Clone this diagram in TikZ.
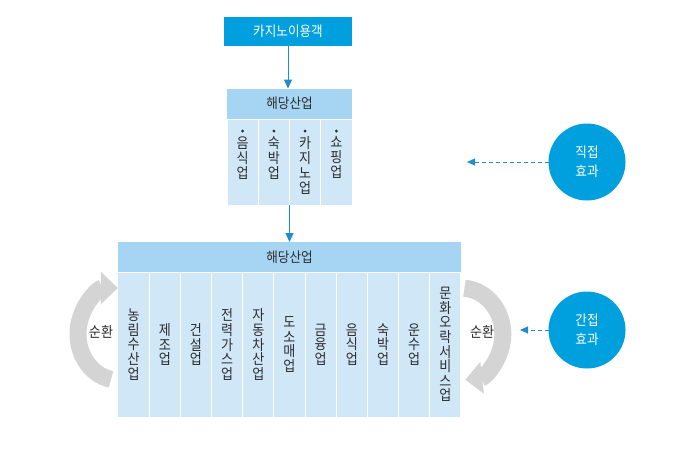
\documentclass[tikz,border=0pt]{standalone}
\usepackage{fontspec}
\setmainfont{Noto Sans CJK KR}[FakeStretch=0.9]
\usetikzlibrary{arrows.meta}
\definecolor{cblue}{RGB}{0,160,223}
\definecolor{hdr}{RGB}{166,213,243}
\definecolor{colc}{RGB}{208,231,248}
\definecolor{txt}{RGB}{45,45,45}
\definecolor{arr}{RGB}{30,140,205}
\definecolor{cyc}{RGB}{212,212,212}
\begin{document}
\begin{tikzpicture}[x=1pt,y=-1pt,
  every node/.style={inner sep=0pt, outer sep=0pt},
  topbox/.style={fill=cblue, text=white, minimum width=128pt, minimum height=29pt, font=\fontsize{14}{15}\selectfont},
  hdrbox/.style={fill=hdr, text=txt, minimum height=30pt, font=\fontsize{14}{15}\selectfont},
  colbox/.style={fill=colc, draw=white, line width=1pt, minimum width=31.2pt},
  vtext/.style={text=txt, align=center, font=\fontsize{14.5}{14.6}\selectfont},
  vtextb/.style={text=txt, align=center, font=\fontsize{14.5}{15}\selectfont},
  bullet/.style={circle, fill=txt, minimum size=3.2pt},
  circ/.style={circle, fill=cblue, text=white, minimum size=77pt, align=center, font=\fontsize{14}{19}\selectfont},
  solidarr/.style={draw=arr, line width=1pt, -{Triangle[length=9pt,width=8pt]}},
  dasharr/.style={draw=arr, line width=1pt, dash pattern=on 4pt off 3pt, -{Triangle[length=8pt,width=7pt]}},
  cycarr/.style={draw=cyc, line width=17pt, -{Triangle[length=17pt,width=31pt]}},
  cyclbl/.style={text=txt, font=\fontsize{14.5}{15}\selectfont}
]
\useasboundingbox (0,0) rectangle (676,451);
\fill[white] (0,0) rectangle (676,451);

% top box
\node[topbox] (user) at (288,31.5) {카지노이용객};

% second box
\node[hdrbox, minimum width=125pt] (h1) at (289.5,103.5) {해당산업};
\node[colbox, minimum height=86pt] (a1) at (242.6,162) {};
\node[colbox, minimum height=86pt] (a2) at (273.9,162) {};
\node[colbox, minimum height=86pt] (a3) at (305.1,162) {};
\node[colbox, minimum height=86pt] (a4) at (336.4,162) {};
\foreach \n/\x in {b1/242.6,b2/273.9,b3/305.1,b4/336.4}{
  \node[bullet] (\n) at (\x,131) {};
}
\node[vtextb, anchor=north] (t1) at (242.6,136.5) {음\\식\\업};
\node[vtextb, anchor=north] (t2) at (273.9,136.5) {숙\\박\\업};
\node[vtextb, anchor=north] (t3) at (305.1,136.5) {카\\지\\노\\업};
\node[vtextb, anchor=north] (t4) at (336.4,136.5) {쇼\\핑\\업};

% third box
\node[hdrbox, minimum width=343pt] (h2) at (289.5,257) {해당산업};
\foreach \i in {1,...,11}{
  \node[colbox, minimum height=145pt] (c\i) at ({118+31.18*(\i-0.5)},344.5) {};
}
\node[vtext] (s1) at (c1) {농\\림\\수\\산\\업};
\node[vtext] (s2) at (c2) {제\\조\\업};
\node[vtext] (s3) at (c3) {건\\설\\업};
\node[vtext] (s4) at (c4) {전\\력\\가\\스\\업};
\node[vtext] (s5) at (c5) {자\\동\\차\\산\\업};
\node[vtext] (s6) at (c6) {도\\소\\매\\업};
\node[vtext] (s7) at (c7) {금\\융\\업};
\node[vtext] (s8) at (c8) {음\\식\\업};
\node[vtext] (s9) at (c9) {숙\\박\\업};
\node[vtext] (s10) at (c10) {운\\수\\업};
\node[vtext] (s11) at (c11) {문\\화\\오\\락\\서\\비\\스\\업};

% arrows between boxes
\draw[solidarr] (user.south) -- (user.south |- h1.north);
\draw[solidarr] (a2.south east) -- (a2.south east |- h2.north);

% circles
\node[circ] (d) at (587,162) {직접\\효과};
\node[circ] (ind) at (587,330) {간접\\효과};
\coordinate (dt) at (467,162);
\coordinate (it) at (520,330);
\draw[dasharr] (d.west) -- (dt);
\draw[dasharr] (ind.west) -- (it);

% cycle arrows
\coordinate (lcs) at (111.05,379.3);
\coordinate (rcs) at (464.5,288.2);
\draw[cycarr] (lcs) arc[start angle=100, end angle=270, x radius=40, y radius=46];
\draw[cycarr] (rcs) arc[start angle=275, end angle=444, x radius=42, y radius=46];
\node[cyclbl] (lc) at (101,332) {순환};
\node[cyclbl] (rc) at (482,332) {순환};
\end{tikzpicture}
\end{document}
